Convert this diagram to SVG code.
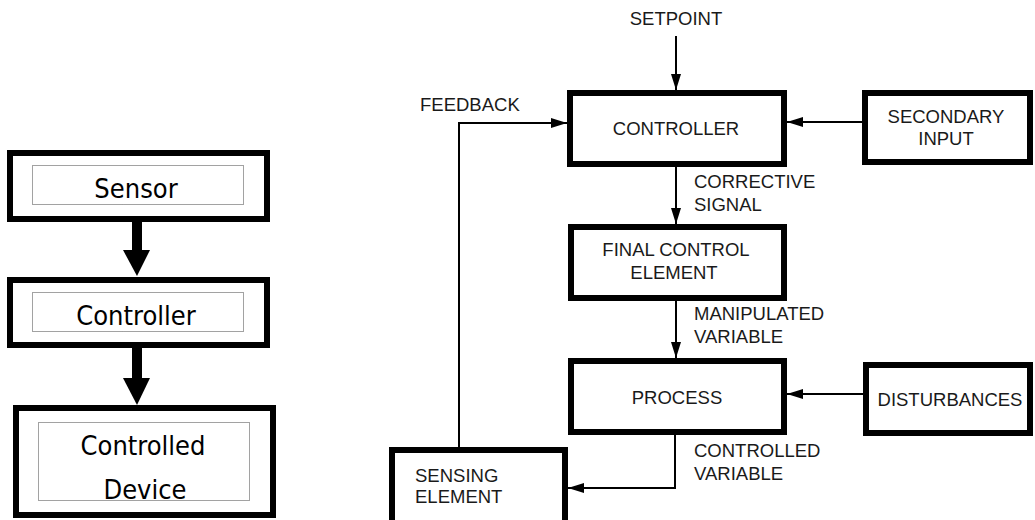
<svg xmlns="http://www.w3.org/2000/svg" width="1035" height="520" viewBox="0 0 1035 520">
<defs>
<style>
.box{fill:#fff;stroke:#000;stroke-width:6}
.inner{fill:none;stroke:#444;stroke-width:1;stroke-dasharray:1 1}
.lt{font-family:"DejaVu Sans Condensed","DejaVu Sans",sans-serif;font-stretch:condensed;font-size:27px;fill:#000;text-anchor:middle}
.rt{font-family:"Liberation Sans",Arial,sans-serif;font-size:18.5px;fill:#1a1a1a}
.m{text-anchor:middle}
.con{fill:none;stroke:#000;stroke-width:2}
.thick{fill:none;stroke:#000;stroke-width:10}
</style>
<marker id="ah" markerUnits="userSpaceOnUse" markerWidth="16" markerHeight="10" refX="16" refY="5" orient="auto">
<path d="M0,0 L16,5 L0,10 z" fill="#000"/>
</marker>
</defs>
<rect width="1035" height="520" fill="#fff"/>

<g id="connectors">
<line class="thick" x1="137" y1="222" x2="137" y2="252"/>
<polygon points="123,250 150,250 137,276" fill="#000"/>
<line class="thick" x1="137" y1="348" x2="137" y2="380"/>
<polygon points="123,378 150,378 137,405" fill="#000"/>
<line class="con" x1="676" y1="36" x2="676" y2="90" marker-end="url(#ah)"/>
<line class="con" x1="862" y1="122" x2="787" y2="122" marker-end="url(#ah)"/>
<polyline class="con" points="459,447 459,123 567,123" marker-end="url(#ah)"/>
<line class="con" x1="676" y1="167" x2="676" y2="224" marker-end="url(#ah)"/>
<line class="con" x1="676" y1="301" x2="676" y2="358" marker-end="url(#ah)"/>
<line class="con" x1="863" y1="394" x2="787" y2="394" marker-end="url(#ah)"/>
<polyline class="con" points="675,435 675,488 568,488" marker-end="url(#ah)"/>
</g>

<g id="sensor">
<rect class="box" x="10" y="153" width="257" height="66"/>
<rect class="inner" x="32.5" y="165.5" width="211" height="39"/>
<text class="lt" x="136" y="198">Sensor</text>
</g>
<g id="controller-left">
<rect class="box" x="10" y="280" width="257" height="65"/>
<rect class="inner" x="32.5" y="292.5" width="211" height="39"/>
<text class="lt" x="136" y="325">Controller</text>
</g>
<g id="controlled-device">
<rect class="box" x="16" y="408" width="257" height="107"/>
<rect class="inner" x="38.5" y="422.5" width="211" height="78"/>
<text class="lt" x="143" y="455">Controlled</text>
<text class="lt" x="145" y="499">Device</text>
</g>

<g id="setpoint">
<text class="rt m" x="676" y="25">SETPOINT</text>
</g>
<g id="feedback-label">
<text class="rt" x="420" y="111">FEEDBACK</text>
</g>
<g id="controller">
<rect class="box" x="570" y="93" width="214" height="71"/>
<text class="rt m" x="676" y="135">CONTROLLER</text>
</g>
<g id="secondary-input">
<rect class="box" x="865" y="93" width="165" height="69"/>
<text class="rt m" x="946" y="123">SECONDARY</text>
<text class="rt m" x="946" y="145">INPUT</text>
</g>
<g id="corrective-label">
<text class="rt" x="694" y="188">CORRECTIVE</text>
<text class="rt" x="694" y="211">SIGNAL</text>
</g>
<g id="final-control-element">
<rect class="box" x="571" y="227" width="213" height="71"/>
<text class="rt m" x="676" y="256">FINAL CONTROL</text>
<text class="rt m" x="674" y="279">ELEMENT</text>
</g>
<g id="manipulated-label">
<text class="rt" x="694" y="320">MANIPULATED</text>
<text class="rt" x="694" y="343">VARIABLE</text>
</g>
<g id="process">
<rect class="box" x="571" y="361" width="213" height="71"/>
<text class="rt m" x="677" y="404">PROCESS</text>
</g>
<g id="disturbances">
<rect class="box" x="866" y="365" width="164" height="68"/>
<text class="rt m" x="950" y="406">DISTURBANCES</text>
</g>
<g id="controlled-label">
<text class="rt" x="694" y="457">CONTROLLED</text>
<text class="rt" x="694" y="480">VARIABLE</text>
</g>
<g id="sensing-element">
<rect class="box" x="392" y="450" width="173" height="75"/>
<text class="rt" x="415" y="482">SENSING</text>
<text class="rt" x="415" y="503">ELEMENT</text>
</g>
</svg>
